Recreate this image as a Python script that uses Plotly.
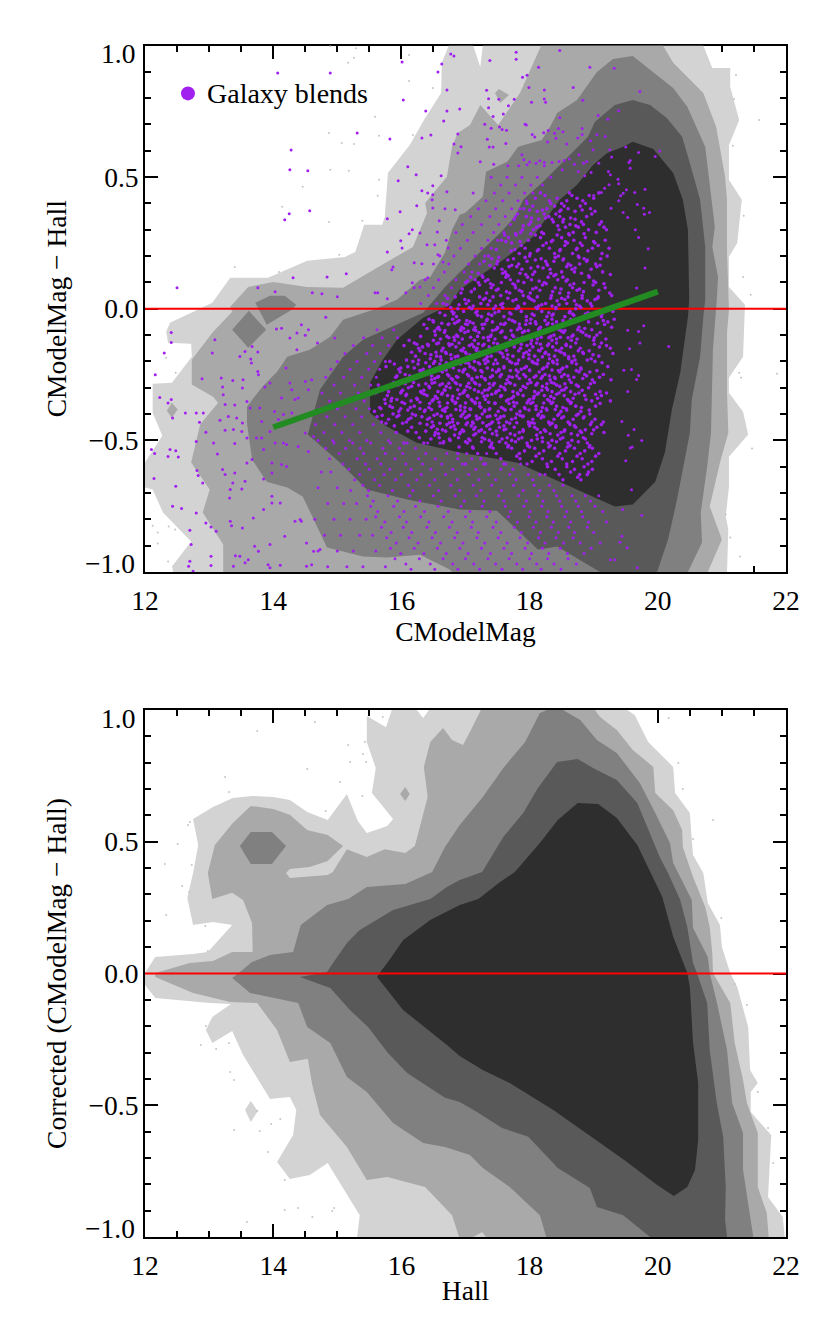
"""Two magnitude-difference density panels, filled contours with outliers on top."""
import plotly.graph_objects as go
from plotly.subplots import make_subplots

FONT = "Liberation Serif, Times New Roman, serif"
SHADES = ["#d3d3d3", "#a9a9a9", "#808080", "#595959", "#2e2e2e"]
PURPLE = "#a020f0"

TOP_L1 = [(16.74,1.0),(16.63,.934),(16.62,.82),(16.37,.725),(16.13,.622),(15.79,.516),(15.74,.349),(15.7,.319),(15.42,.319),(15.28,.216),(15.12,.197),(14.53,.182),(13.92,.118),(13.33,.118),(13.05,.023),(12.39,-.053),(12.33,-.087),(12.36,-.129),(12.72,-.133),(12.73,-.182),(12.42,-.281),(12.12,-.285),(12.12,-.395),(12.27,-.482),(12.0,-.584),(12.0,-.679),(12.12,-.687),(12.28,-.774),(12.72,-.884),(12.42,-.979),(12.44,-1),(21.08,-1),(21.1,-.839),(21.06,-.789),(21.11,-.676),(21.11,-.562),(21.41,-.478),(21.33,-.391),(21.11,-.319),(21.11,-.262),(21.33,-.182),(21.36,-.004),(21.36,.015),(21.11,.083),(21.11,.197),(21.24,.25),(21.31,.414),(21.11,.49),(21.11,.622),(21.27,.717),(21.13,.842),(21.13,.915),(20.85,.915),(20.71,1),(17.27,1),(17.23,.918),(17.12,1)]
TOP_L2 = [(20.08,1),(20.24,.934),(20.71,.82),(20.91,.691),(21.05,.501),(21.08,.414),(21.08,.213),(21.1,.083),(21.11,-.004),(21.08,-.091),(21.08,-.319),(21.1,-.471),(20.97,-.584),(20.81,-.751),(21.0,-.877),(20.78,-1),(13.22,-1),(13.22,-.896),(12.9,-.774),(13.01,-.687),(12.72,-.584),(12.86,-.44),(13.14,-.357),(13.06,-.334),(12.73,-.288),(12.73,-.194),(13.05,-.091),(13.36,-.011),(13.33,.008),(13.61,.083),(14.0,.102),(14.53,.083),(15.09,.08),(15.7,.167),(16.18,.235),(16.4,.364),(16.37,.402),(16.71,.501),(16.79,.615),(16.88,.668),(17.07,.698),(17.23,.774),(17.51,.698),(17.85,.82),(18.16,.983),(18.18,1)]
TOP_L2_SPOT_A = [(12.34,-.387),(12.42,-.357),(12.51,-.383),(12.42,-.414)]
TOP_L2_SPOT_B = [(17.46,.82),(17.52,.835),(17.68,.812),(17.54,.782)]
TOP_L3 = [(19.61,.96),(20.24,.839),(20.46,.767),(20.74,.615),(20.89,.311),(20.85,.235),(20.94,.121),(20.92,.034),(20.86,-.156),(20.85,-.258),(20.83,-.471),(20.77,-.6),(20.67,-.774),(20.69,-.888),(20.47,-1),(16.79,-1),(16.76,-.991),(16.29,-.934),(15.78,-.945),(15.4,-.941),(14.84,-.907),(14.46,-.713),(14.22,-.679),(13.9,-.657),(13.67,-.573),(13.59,-.433),(13.59,-.372),(13.83,-.296),(14.06,-.239),(14.22,-.182),(14.57,-.156),(14.89,-.106),(15.09,-.042),(15.56,-.004),(15.93,.034),(16.29,.11),(16.45,.121),(16.68,.213),(16.79,.3),(16.91,.357),(16.99,.364),(17.27,.425),(17.32,.52),(17.65,.558),(17.82,.615),(18.19,.641),(18.32,.691),(18.43,.744),(18.74,.793),(19.05,.899),(19.3,.949)]
TOP_L3_SPOT_A = [(13.72,.023),(13.95,.049),(14.18,.049),(14.36,.015),(14.29,-.004),(13.9,-.061)]
TOP_L3_SPOT_B = [(13.36,-.08),(13.62,-.008),(13.89,-.08),(13.61,-.148)]
TOP_L4 = [(19.61,.793),(19.88,.774),(20.14,.725),(20.38,.653),(20.5,.554),(20.66,.414),(20.74,.235),(20.74,.034),(20.71,-.03),(20.66,-.182),(20.53,-.345),(20.5,-.471),(20.3,-.725),(20.16,-.877),(19.99,-1),(19.1,-1),(18.43,-.903),(18.13,-.915),(17.49,-.767),(16.91,-.763),(16.09,-.725),(15.46,-.687),(15.04,-.584),(14.54,-.478),(14.73,-.307),(15.09,-.182),(15.4,-.118),(15.93,-.061),(16.34,-.015),(16.68,.083),(16.91,.14),(17.23,.216),(17.54,.288),(17.77,.349),(17.9,.414),(18.21,.482),(18.4,.528),(18.58,.573),(18.91,.653),(19.02,.71),(19.33,.774)]
TOP_L5 = [(19.61,.634),(19.93,.607),(20.24,.516),(20.39,.414),(20.47,.3),(20.49,.034),(20.47,-.03),(20.35,-.243),(20.22,-.383),(20.11,-.546),(19.96,-.657),(19.61,-.744),(19.33,-.751),(18.47,-.657),(17.8,-.584),(16.91,-.546),(16.24,-.509),(15.78,-.448),(15.51,-.395),(15.51,-.281),(15.71,-.194),(15.93,-.118),(16.34,-.034),(16.76,.015),(16.91,.072),(17.18,.118),(17.59,.186),(18.05,.273),(18.47,.414),(18.74,.471),(18.99,.546),(19.21,.592),(19.46,.615)]

BOT_L1 = [(12.0,.002),(12.16,.063),(12.75,.074),(12.98,.082),(13.36,.184),(13.06,.195),(12.75,.184),(12.66,.287),(12.75,.381),(12.83,.488),(12.75,.586),(13.06,.632),(13.37,.666),(13.67,.674),(14.0,.67),(14.26,.658),(14.53,.613),(14.85,.583),(15.15,.681),(15.32,.579),(15.46,.533),(15.78,.56),(15.87,.586),(15.54,.685),(15.6,.78),(15.46,.879),(15.46,.977),(15.76,.935),(15.85,1),(16.24,1),(16.34,.97),(16.43,1),(19.52,1),(19.64,.981),(19.85,.879),(20.24,.784),(20.27,.685),(20.5,.609),(20.53,.507),(20.55,.45),(20.71,.381),(20.78,.268),(20.97,.184),(21.0,.101),(21.13,.002),(21.24,-.051),(21.41,-.203),(21.44,-.366),(21.56,-.416),(21.45,-.45),(21.45,-.526),(21.77,-.613),(21.72,-.848),(21.95,-.924),(21.98,-1),(15.31,-1),(15.35,-.917),(14.85,-.719),(14.57,-.765),(14.26,-.78),(14.06,-.715),(14.31,-.613),(14.36,-.518),(14.26,-.469),(13.95,-.476),(13.53,-.309),(13.36,-.218),(13.05,-.264),(12.95,-.214),(13.05,-.165),(13.34,-.116),(13.01,-.112),(12.16,-.093),(12.0,-.044)]
BOT_L1_SPOT = [(13.56,-.518),(13.65,-.484),(13.76,-.522),(13.65,-.564)]
BOT_L2 = [(12.16,.002),(12.7,.04),(13.06,.047),(13.36,.082),(13.68,.082),(13.67,.192),(13.53,.279),(13.36,.306),(13.05,.283),(12.98,.381),(13.09,.488),(13.37,.571),(13.65,.636),(14.0,.624),(14.26,.602),(14.53,.545),(14.85,.526),(15.09,.484),(14.85,.427),(14.57,.404),(14.26,.397),(14.2,.381),(14.26,.362),(14.85,.374),(14.93,.385),(15.15,.472),(15.46,.442),(15.74,.472),(16.06,.457),(16.21,.484),(16.41,.67),(16.35,.784),(16.45,.879),(16.65,.932),(16.79,.886),(16.96,.867),(17.07,.917),(17.23,.992),(17.24,1),(19.02,1),(19.1,.973),(19.36,.924),(19.61,.848),(19.93,.784),(19.96,.685),(20.24,.62),(20.38,.545),(20.39,.48),(20.55,.366),(20.74,.252),(20.81,.176),(20.85,.078),(20.86,.002),(21.13,-.112),(21.2,-.264),(21.33,-.404),(21.39,-.491),(21.56,-.605),(21.56,-.81),(21.7,-.909),(21.73,-1),(16.9,-1),(16.79,-.917),(16.37,-.81),(15.78,-.772),(15.46,-.784),(15.15,-.658),(14.73,-.537),(14.61,-.423),(14.54,-.324),(14.26,-.336),(14.06,-.214),(13.75,-.112),(13.33,-.108),(12.75,-.074),(12.16,-.013)]
BOT_L2_SPOT = [(15.98,.681),(16.06,.708),(16.13,.681),(16.06,.655)]
BOT_L1_GAP = [(17.12,-1),(17.26,-.981),(17.32,-1)]
BOT_L3 = [(13.48,.006),(13.67,.044),(13.95,.07),(14.31,.082),(14.43,.184),(14.84,.26),(15.17,.283),(15.46,.328),(16.06,.34),(16.48,.385),(16.68,.48),(16.91,.564),(17.27,.67),(17.59,.78),(17.93,.879),(18.16,.989),(18.27,1),(18.52,1),(18.79,.962),(19.05,.886),(19.36,.837),(19.72,.723),(19.96,.609),(20.19,.495),(20.24,.419),(20.53,.279),(20.55,.173),(20.78,.063),(20.81,.002),(20.92,-.108),(21.08,-.29),(21.16,-.491),(21.33,-.605),(21.33,-.746),(21.49,-1),(18.26,-1),(18.16,-.917),(17.82,-.841),(17.69,-.81),(17.27,-.738),(17.07,-.689),(16.68,-.658),(16.34,-.643),(15.87,-.567),(15.46,-.45),(15.15,-.393),(14.89,-.264),(14.53,-.203),(14.39,-.112),(13.64,-.074),(13.36,-.017)]
BOT_L3_SPOT = [(13.48,.484),(13.65,.537),(13.98,.537),(14.2,.484),(13.98,.416),(13.65,.416)]
BOT_L4 = [(14.84,.006),(14.89,.025),(15.15,.116),(15.35,.165),(15.87,.241),(16.45,.283),(16.71,.328),(16.91,.355),(17.26,.385),(17.59,.518),(17.9,.609),(18.13,.704),(18.43,.803),(18.75,.814),(18.99,.78),(19.36,.734),(19.68,.647),(19.88,.533),(20.03,.442),(20.16,.381),(20.35,.279),(20.46,.176),(20.55,.04),(20.61,.002),(20.77,-.112),(20.81,-.29),(20.92,-.491),(21.02,-.62),(21.06,-.81),(21.05,-.935),(21.08,-1),(19.88,-1),(19.46,-.917),(19.05,-.886),(18.94,-.814),(18.44,-.738),(17.98,-.62),(17.57,-.586),(17.18,-.526),(16.91,-.488),(16.68,-.472),(16.09,-.378),(15.79,-.302),(15.48,-.203),(15.2,-.139),(14.89,-.055),(14.42,-.013)]
BOT_L5 = [(15.67,.006),(15.78,.04),(16.03,.127),(16.45,.203),(16.91,.26),(17.2,.283),(17.54,.347),(17.77,.385),(18.16,.495),(18.44,.583),(18.75,.647),(19.07,.643),(19.36,.59),(19.68,.488),(20.07,.29),(20.24,.139),(20.46,.002),(20.5,-.051),(20.55,-.264),(20.63,-.416),(20.63,-.632),(20.58,-.746),(20.46,-.81),(20.25,-.844),(19.99,-.803),(19.52,-.715),(18.99,-.624),(18.37,-.518),(17.69,-.416),(17.27,-.366),(16.91,-.313),(16.71,-.271),(16.03,-.139),(15.62,-.013)]

TOP_OUTLIERS = [(14.89,.998),(15.29,.99),(15.26,.953),(15.17,.934),(16.12,.964),(16.12,.865),(16.49,.839),(15.59,.729),(14.87,.668),(15.07,.63),(15.26,.626),(15.65,.657),(16.18,.66),(14.89,.528),(15.18,.524),(15.65,.49),(15.63,.429),(14.46,.463),(14.14,.387),(14.87,.33),(15.39,.334),(15.03,.205),(13.4,.159),(14.09,.14),(21.22,.888),(21.19,.797),(21.58,.717),(21.17,.619),(21.34,.353),(21.33,.121),(21.45,.053),(12.33,-.186),(12.48,-.243),(12.12,-.824),(12.2,-.85),(12.37,-.827),(12.47,-.839),(12.2,-.892),(12.36,-.96),(21.27,-.243),(21.3,-.262),(21.86,-.247),(21.47,-.531),(21.06,-.782),(21.13,-.869),(21.28,-.941)]
BOT_OUTLIERS = [(14.65,.954),(13.75,.92),(13.25,.746),(13.31,.689),(14.53,.776),(15.04,.727),(15.17,.867),(15.43,.879),(15.4,.833),(15.45,.803),(15.2,.803),(15.39,.674),(14.82,.617),(15.71,.973),(12.7,.575),(12.67,.564),(12.51,.491),(12.31,.416),(12.73,.412),(12.58,.332),(12.69,.309),(12.33,.222),(12.94,.18),(12.98,.085),(20.17,.97),(20.32,.799),(20.39,.7),(20.86,.583),(20.55,.51),(20.99,.211),(12.95,-.199),(12.87,-.271),(13.11,-.287),(13.31,-.264),(13.33,-.374),(13.39,-.404),(13.75,-.522),(13.39,-.594),(13.79,-.598),(13.97,-.571),(14.11,-.552),(13.92,-.677),(14.18,-.784),(14.18,-.898),(14.39,-.89),(14.61,-.924),(14.92,-.901),(14.95,-.89),(13.59,-.943),(21.2,-.04),(21.39,-.12),(21.56,-.45),(21.72,-.586),(21.8,-.719)]

# blends read one by one where they stand apart
BLENDS_UPPER_LEFT = [(12.5,.08),(14.07,.896),(14.89,.896),(16.01,.937),(16.03,.793),(14.28,.603),(14.26,.528),(14.54,.524),(14.57,.372),(14.25,.361),(14.18,.338),(15.31,.668),(15.82,.645),(15.78,.342),(15.98,.368),(15.95,.486),(16.1,.539),(16.23,.509),(16.32,.448),(16.41,.44),(16.49,.467),(16.62,.505),(16.32,.649),(16.46,.66),(16.38,.751),(16.71,.751),(16.91,.759),(16.66,.713),(16.77,.968),(16.82,.96),(16.63,.93),(16.57,.899),(16.71,.831),(16.88,.664),(16.82,.626),(16.93,.615),(16.88,.592),(15.78,.216),(16.01,.231),(15.99,.258),(16.17,.3),(16.12,.285),(16.29,.288),(16.4,.243),(16.52,.243),(16.56,.292),(16.59,.334),(16.68,.38),(16.84,.376),(16.71,.444),(16.49,.433),(16.48,.414),(16.24,.391),(16.49,.383),(14.31,.118),(14.84,.121),(15.14,.133),(15.85,.148),(15.87,.159),(13.76,.08),(14.03,.065),(14.61,.061),(14.76,.057),(15.0,.046),(15.59,.061),(15.63,.061),(15.78,.038),(16.07,.061),(16.17,.099),(16.2,.175),(16.32,.171),(16.29,.083),(16.41,.118),(16.57,.205),(16.65,.178),(16.73,.231)]
BLENDS_UPPER_RIGHT = [(17.79,.974),(17.79,.948),(17.38,.943),(18.14,.917),(18.47,.981),(18.94,.917),(19.32,.914),(17.89,.879),(17.96,.887),(17.99,.84),(18.23,.831),(18.68,.84),(19.72,.825),(17.33,.83),(17.36,.798),(17.52,.796),(17.76,.796),(18.23,.797),(18.25,.784),(18.03,.784),(18.83,.792),(17.67,.771),(17.36,.764),(19.39,.752),(17.43,.73),(17.59,.74),(18.47,.726),(19.07,.734),(19.22,.72),(17.3,.701),(17.53,.69),(17.57,.681),(17.64,.678),(17.93,.701),(17.95,.698),(17.4,.686),(17.34,.644),(18.04,.662),(18.08,.652),(18.22,.669),(18.29,.677),(18.39,.667),(18.45,.685),(18.52,.672),(18.41,.648),(18.82,.685),(18.82,.662),(18.75,.649),(18.28,.633),(17.63,.628),(17.43,.614),(17.37,.614),(19.18,.654),(19.05,.661),(19.5,.614),(18.95,.638),(18.58,.626),(19.7,.594),(20.03,.599),(19.96,.578),(19.57,.563),(19.55,.556),(19.57,.534),(19.28,.576),(19.25,.604),(18.99,.604),(17.88,.585),(17.91,.566),(17.44,.549),(17.23,.558),(17.66,.543),(17.83,.543),(17.96,.547),(18.0,.557),(18.1,.553),(18.16,.562),(18.23,.556),(18.23,.543),(18.35,.556),(18.46,.559),(18.54,.563),(18.62,.569),(18.77,.585),(18.7,.549),(18.84,.553),(18.89,.559),(19.08,.553),(18.96,.518),(18.76,.521),(18.86,.505),(18.51,.528),(19.23,.521),(19.26,.509),(19.38,.492),(19.8,.454),(19.64,.442),(19.51,.452),(19.39,.475),(19.24,.471),(19.17,.458),(19.12,.442),(19.0,.43),(19.42,.429),(19.46,.439),(19.39,.41),(19.68,.396),(19.78,.382),(19.87,.366),(19.79,.359),(19.53,.347),(19.46,.366),(19.27,.382),(19.65,.3),(19.7,.271),(19.85,.228),(19.8,.155),(19.67,.079)]
BLENDS_RIGHT = [(20.17,-.143),(19.78,-.065),(19.7,-.086),(19.72,-.13),(19.53,-.082),(19.56,-.152),(19.7,-.254),(19.67,-.269),(19.59,-.231),(19.47,-.234),(19.53,-.314),(19.44,-.428),(19.63,-.459),(19.54,-.481),(19.75,-.5),(19.57,-.529),(19.6,-.525),(19.5,-.577),(19.59,-.688),(19.75,-.784),(19.45,-.763),(19.44,-.864),(19.52,-.908),(19.68,-.984),(19.33,-.953),(19.26,-.953),(19.41,-.887)]
BLENDS_LOWER_LEFT = [(12.41,-.09),(12.41,-.128),(12.3,-.168),(12.16,-.251),(12.23,-.337),(12.36,-.358),(12.41,-.345),(12.43,-.415),(12.63,-.396),(12.8,-.396),(12.91,-.396),(12.85,-.431),(12.95,-.469),(12.8,-.504),(12.1,-.535),(12.15,-.55),(12.39,-.535),(12.48,-.539),(12.36,-.561),(12.52,-.563),(12.14,-.645),(12.81,-.614),(12.83,-.633),(12.9,-.662),(12.48,-.674),(12.43,-.75),(12.57,-.759),(12.8,-.776),(12.7,-.841),(12.95,-.814),(13.03,-.829),(13.11,-.845),(12.72,-.896),(12.7,-.959),(12.68,-.978),(13.03,-.94),(13.03,-.975),(12.75,-.997),(13.09,-.118),(13.05,-.168),(12.89,-.266),(13.19,-.263),(13.21,-.297),(13.22,-.327),(13.25,-.364),(13.37,-.273),(13.53,-.27),(13.52,-.301),(13.56,-.162),(13.48,-.181),(13.65,-.191),(13.66,-.206),(13.76,-.164),(13.76,-.238),(13.77,-.251),(13.67,-.143),(14.26,-.111),(14.37,-.092),(14.5,-.101),(14.69,-.13),(14.96,-.111),(14.37,-.156),(14.2,-.225),(13.95,-.282),(13.87,-.297),(14.44,-.061),(14.55,-.08),(14.82,-.032),(14.05,-.077),(14.13,-.074),(13.4,-.366),(13.3,-.409),(13.17,-.424),(13.43,-.415),(13.52,-.434),(13.59,-.352),(13.64,-.377),(13.38,-.459),(13.51,-.466),(13.25,-.462),(13.59,-.491),(13.4,-.512),(13.13,-.552),(13.07,-.51),(13.67,-.573),(13.59,-.586),(13.21,-.611),(13.25,-.63),(13.4,-.624),(13.56,-.655),(13.37,-.662),(13.33,-.687),(13.32,-.719),(13.51,-.685),(13.85,-.647),(13.98,-.712),(13.98,-.738),(14.11,-.738),(13.85,-.763),(13.69,-.795),(13.33,-.807),(13.35,-.824),(13.52,-.833),(14.18,-.864),(13.95,-.896),(13.71,-.902),(13.77,-.921),(13.61,-.953),(13.48,-.94),(13.41,-.938),(13.92,-.972),(13.95,-.984),(13.56,-.965),(13.38,-.978),(14.11,-.974),(14.34,-.807),(14.42,-.801),(14.44,-.807),(14.52,-.89),(14.63,-.921),(14.73,-.915),(14.52,-.978),(14.6,-.972),(14.26,-.282),(14.29,-.308),(14.34,-.345),(14.39,-.339),(14.5,-.276),(14.6,-.27),(14.55,-.308),(14.13,-.339),(13.79,-.377),(14.02,-.39),(14.08,-.421),(14.16,-.402),(13.82,-.428),(13.95,-.466),(13.82,-.491),(13.74,-.491),(14.03,-.51),(14.16,-.51),(14.21,-.516),(14.39,-.523),(14.55,-.542),(13.85,-.535),(13.98,-.586),(14.13,-.592),(14.21,-.599),(13.98,-.624),(14.29,-.396),(14.5,-.472),(14.63,-.485)]

# estimated row by row where the blends crowd together: a y value and the x values on it
BAND_Y = [.02,.05,.08,.11,.14,.17,.2,.23,.26,.29,.32,.35,.38,.41,.44,.47,.5,-.08,-.11,-.14,-.17,-.2,-.23,-.26,-.29,-.32,-.35,-.38,-.41,-.44,-.47,-.5,-.62,-.68,-.74,-.8,-.86,-.92,-.98]
BAND_X = [[16.3,16.55],[16.42,16.68],[16.5,16.78,16.2],[16.58,16.85,16.37],[16.67,16.98,17.1],[16.74,17.05,17.22,16.5],[16.82,17.15,16.6,17.3],[16.92,17.25,17.4],[16.7,17.03,17.35,17.5],[17.12,17.44,16.85,17.6],[16.95,17.25,17.52,17.7],[17.08,17.38,17.62,17.78],[17.2,17.47,17.72,17.85],[17.32,17.58,17.82,17.95],[17.12,17.45,17.68,17.92,18.05],[17.55,17.78,18.02,18.2],[17.4,17.65,17.88,18.12,18.33],[15.62,15.88],[15.41,15.7,15.94],[15.25,15.55,15.8],[15.12,15.46,15.67],[15.0,15.31,15.58,15.75],[14.9,15.2,15.49,15.66],[14.82,15.1,15.38,15.61],[14.95,15.27,15.52],[14.76,15.05,15.33,15.47],[14.88,15.17,15.42],[14.72,15.0,15.29,15.5],[14.84,15.12,15.38],[14.66,14.96,15.24,15.56],[14.79,15.07,15.35,15.68],[14.7,14.93,15.19,15.46,15.8],[14.75,14.9],[14.7,15.0],[14.85,15.1,15.3],[14.65,14.95,15.2,15.45],[14.8,15.05,15.35,15.55],[14.7,15.0,15.25,15.6],[14.85,15.15,15.4,15.75]]
SKIRT_Y = [-.53,-.51,-.57,-.55,-.61,-.59,-.65,-.63,-.69,-.67,-.73,-.71,-.77,-.75,-.81,-.79,-.85,-.83,-.89,-.87,-.93,-.91,-.97,-.95,-.99]
SKIRT_X = [[14.82,15.13,15.36,15.71,15.97,16.22],[14.95,15.24,15.52,15.83,16.09,16.41,16.6],[14.88,15.31,15.62,15.9,16.27,16.53,16.88,17.1],[15.03,15.41,15.75,16.02,16.38,16.71,17.02,17.33],[15.18,15.5,15.82,16.15,16.46,16.8,17.16,17.55,17.74],[15.09,15.44,15.68,16.07,16.33,16.63,16.95,17.28,17.63,17.86],[15.27,15.58,15.91,16.24,16.52,16.87,17.21,17.47,17.79,18.05],[15.35,15.73,16.0,16.31,16.69,17.05,17.36,17.69,17.98,18.24],[15.21,15.49,15.86,16.18,16.58,16.91,17.24,17.56,17.9,18.16,18.38],[15.4,15.66,16.11,16.44,16.77,17.12,17.41,17.75,18.07,18.31,18.52],[15.56,15.94,16.29,16.62,16.98,17.29,17.6,17.95,18.21,18.47,18.72,18.95],[15.47,15.79,16.13,16.5,16.84,17.17,17.52,17.83,18.13,18.42,18.66,18.87,19.08],[15.63,16.04,16.36,16.73,17.07,17.38,17.7,18.01,18.29,18.58,18.81,19.14],[15.52,15.88,16.22,16.57,16.93,17.26,17.62,17.91,18.19,18.5,18.76,19.02],[15.74,16.08,16.43,16.79,17.11,17.48,17.81,18.1,18.37,18.64,18.92,19.2],[15.6,15.97,16.3,16.66,17.0,17.33,17.67,17.99,18.27,18.55,18.83],[15.84,16.16,16.53,16.87,17.2,17.55,17.87,18.17,18.45,18.7,19.0],[15.69,16.03,16.4,16.75,17.09,17.43,17.76,18.06,18.34,18.61,18.9],[15.92,16.26,16.61,16.96,17.3,17.65,17.97,18.24,18.53,18.79,19.1],[15.77,16.12,16.48,16.83,17.18,17.51,17.85,18.14,18.41,18.68],[15.99,16.35,16.7,17.04,17.39,17.72,18.03,18.3,18.59,18.85],[15.83,16.2,16.56,16.91,17.25,17.6,17.93,18.2,18.48,18.96],[16.07,16.45,16.8,17.13,17.47,17.8,18.11,18.38,18.73],[15.9,16.28,16.65,17.0,17.35,17.68,18.0,18.28,18.6],[16.15,16.52,16.88,17.22,17.57,17.89,18.18,18.49]]
CORE_Y = [.41,.37,.43,.39,.44,.40,.42,.38,.33,.29,.35,.31,.36,.32,.34,.30,.25,.21,.27,.23,.28,.24,.26,.22,.17,.13,.19,.15,.20,.16,.18,.14,.09,.05,.11,.07,.12,.08,.10,.06,.01,-.03,.03,-.01,.04,.00,.02,-.02,-.07,-.11,-.05,-.09,-.04,-.08,-.06,-.10,-.15,-.19,-.13,-.17,-.12,-.16,-.14,-.18,-.23,-.27,-.21,-.25,-.20,-.24,-.22,-.26,-.31,-.35,-.29,-.33,-.28,-.32,-.30,-.34,-.39,-.43,-.37,-.41,-.36,-.40,-.38,-.42,-.47,-.51,-.45,-.49,-.44,-.48,-.46,-.50,-.55,-.59,-.53,-.57,-.52,-.56,-.54,-.58,-.63,-.60,-.61,-.65,-.62,-.64]
CORE_X = [[18.31,18.58,18.83],[18.12,18.47,18.71,19.02],[18.24,18.66,18.93],[18.05,18.39,18.54,18.79],[18.17,18.62,19.08],[17.96,18.33,18.5,18.87],[18.09,18.43,18.74,19.0],[17.91,18.27,18.6,18.95],[18.02,18.37,18.52,18.81,19.12],[17.86,18.19,18.68,19.04],[17.95,18.3,18.47,18.89],[18.11,18.56,18.76,19.16],[17.81,18.23,18.41,18.97],[17.99,18.63,18.84,19.09],[17.76,18.14,18.35,18.53,18.71],[17.89,18.06,18.46,18.92,19.2],[17.72,18.26,18.59,18.79,19.02],[17.84,18.01,18.39,18.67,19.13],[17.67,18.17,18.5,18.87],[17.93,18.31,18.74,18.98,19.24],[17.61,17.79,18.09,18.43,18.62],[17.87,18.21,18.55,18.82,19.07],[17.56,17.98,18.36,18.69,19.18],[17.71,18.12,18.47,18.91],[17.49,17.83,18.27,18.6,18.78,19.03],[17.64,17.94,18.05,18.41,19.26],[17.41,17.75,18.18,18.53,18.85,19.11],[17.57,17.88,18.32,18.66,18.96],[17.36,18.0,18.45,18.76,19.21],[17.68,17.8,18.13,18.58,19.05],[17.29,17.5,17.96,18.25,18.38,18.89],[17.62,18.08,18.5,18.7,19.14],[17.22,17.43,17.77,18.2,18.63,18.99],[17.55,17.9,18.34,18.82,19.28],[17.15,17.35,17.7,18.03,18.44,18.59],[17.48,17.84,18.16,18.74,19.08],[17.08,17.27,17.63,17.97,18.29,18.52,18.93],[17.4,17.78,18.1,18.4,18.67,19.18],[17.0,17.2,17.56,17.91,18.23,18.85,19.03],[16.93,17.33,17.69,18.01,18.47,18.61,19.25],[17.12,17.47,17.82,18.14,18.35,18.78,18.97],[16.86,17.25,17.6,17.95,18.27,18.55,19.12],[17.05,17.38,17.74,18.07,18.43,18.7,18.9],[16.79,16.97,17.18,17.52,17.87,18.19,18.63,19.3],[16.72,17.31,17.66,18.0,18.33,18.5,18.82,19.06],[16.88,17.1,17.44,17.79,18.12,18.41,18.72,19.2],[16.65,17.01,17.24,17.58,17.92,18.25,18.58,18.95],[16.81,17.36,17.71,18.04,18.37,18.67,18.87,19.13],[16.58,16.94,17.15,17.5,17.84,18.17,18.48,18.77,19.28],[16.74,17.28,17.63,17.97,18.3,18.6,19.01],[16.5,16.87,17.07,17.42,17.77,18.09,18.42,18.71,18.92,19.22],[16.67,16.99,17.21,17.55,17.89,18.21,18.53,18.83,19.1],[16.43,16.8,17.34,17.68,18.02,18.35,18.64,19.32],[16.6,16.92,17.13,17.47,17.81,18.14,18.46,18.75,18.97],[16.35,16.73,17.03,17.26,17.6,17.94,18.27,18.56,19.17],[16.53,16.86,17.4,17.73,18.06,18.38,18.68,18.88,19.05],[16.27,16.65,16.97,17.18,17.52,17.86,18.19,18.5,18.79,19.26],[16.45,16.78,17.09,17.32,17.65,17.99,18.31,18.61,18.96],[16.2,16.58,16.9,17.44,17.78,18.11,18.42,18.72,19.12],[16.37,16.7,17.01,17.23,17.57,17.91,18.24,18.54,18.84,19.3],[16.12,16.5,16.83,17.14,17.36,17.7,18.03,18.35,18.65,19.0],[16.29,16.63,16.95,17.48,17.83,18.16,18.46,18.76,18.93],[16.04,16.42,16.75,17.06,17.27,17.61,17.96,18.28,18.57,19.2],[16.22,16.55,16.88,17.18,17.4,17.74,18.08,18.39,18.69,19.08],[15.96,16.34,16.68,16.99,17.52,17.87,18.2,18.5,18.8],[16.14,16.47,16.8,17.1,17.31,17.65,18.0,18.32,18.62,18.98,19.27],[15.89,16.26,16.6,16.92,17.22,17.44,17.78,18.12,18.43,18.73],[16.06,16.39,16.72,17.03,17.56,17.91,18.24,18.54,18.86,19.15],[15.82,16.18,16.52,16.84,17.14,17.35,17.69,18.04,18.36,18.66,19.02],[15.98,16.31,16.64,16.96,17.26,17.48,17.82,18.15,18.47,18.77,18.94],[15.76,16.1,16.44,16.76,17.07,17.6,17.95,18.27,18.58,19.22],[15.91,16.23,16.56,16.88,17.18,17.39,17.73,18.07,18.39,18.69,19.09],[15.7,16.02,16.35,16.68,16.99,17.3,17.52,17.86,18.19,18.5,18.82],[15.84,16.15,16.48,16.8,17.11,17.64,17.98,18.31,18.61,18.97,19.26],[15.64,15.95,16.27,16.6,16.92,17.22,17.43,17.77,18.1,18.42,18.73],[15.78,16.07,16.4,16.72,17.03,17.34,17.56,17.9,18.23,18.54,18.86,19.12],[15.88,16.19,16.52,16.84,17.14,17.68,18.02,18.34,18.65,19.01],[15.6,15.99,16.32,16.64,16.96,17.26,17.47,17.81,18.14,18.46,18.77,19.2],[15.72,16.11,16.44,16.76,17.07,17.38,17.6,17.94,18.26,18.57,18.92],[15.85,16.24,16.56,16.88,17.18,17.72,18.06,18.38,18.68,19.06],[15.58,15.96,16.36,16.68,16.99,17.3,17.51,17.85,18.18,18.49,18.8],[15.69,16.08,16.48,16.8,17.11,17.42,17.64,17.98,18.3,18.6,18.97,19.15],[15.82,16.2,16.6,16.92,17.22,17.76,18.1,18.42,18.72,19.03],[15.62,15.93,16.32,16.72,17.03,17.34,17.55,17.89,18.22,18.53,18.85],[15.75,16.05,16.44,16.84,17.15,17.46,17.68,18.02,18.34,18.64,19.1],[15.87,16.17,16.56,16.96,17.26,17.8,18.14,18.46,18.76,18.94],[15.68,15.99,16.29,16.68,17.07,17.38,17.59,17.93,18.26,18.57],[15.8,16.11,16.41,16.8,17.18,17.5,17.72,18.05,18.38,18.68,19.02],[15.92,16.23,16.53,16.92,17.3,17.84,18.17,18.49,18.81,19.16],[16.04,16.35,16.65,17.03,17.41,17.63,17.96,18.29,18.6,18.9],[16.16,16.47,16.77,17.15,17.53,17.76,18.08,18.41,18.72,19.05],[16.28,16.59,16.89,17.26,17.65,17.88,18.2,18.52,18.84],[16.4,16.71,17.01,17.37,17.99,18.32,18.63,18.95,19.12],[16.52,16.83,17.13,17.49,17.77,18.11,18.44,18.75],[16.64,16.95,17.25,17.6,17.9,18.23,18.55,18.87,19.0],[16.76,17.07,17.37,17.72,18.03,18.35,18.66],[16.88,17.19,17.48,17.84,18.15,18.47,18.79,19.08],[17.0,17.31,17.6,17.96,18.27,18.58,18.91],[17.12,17.43,17.72,18.08,18.39,18.7,18.98],[17.24,17.55,17.85,18.2,18.51,18.82],[17.4,17.67,17.97,18.32,18.63,18.94],[17.8,18.1,18.44,18.74,19.03],[17.92,18.22,18.56,18.86],[18.04,18.34,18.67,18.97],[18.16,18.46,18.78,18.9],[18.28,18.58,18.85],[18.4,18.7,18.98],[18.52,18.8],[18.64,18.92],[18.75],[18.6,18.95]]
CORE_FILL_Y = [.195,.165,.185,.135,.155,.105,.125,.075,.095,.045,.065,.015,.035,-.015,.005,-.045,-.025,-.075,-.055,-.105,-.085,-.135,-.115,-.165,-.145,-.195,-.175,-.225,-.205,-.255,-.235,-.285,-.265,-.315,-.295,-.345,-.325,-.375,-.355,-.405,-.385,-.435,-.415,-.465,-.445,-.495,-.475,-.525,-.505,.225,.255,.285,.315,.345,.375]
CORE_FILL_X = [[17.52,17.93,18.4,18.77],[17.38,17.72,18.28,18.64,19.1],[17.66,18.09,18.52,18.9],[17.2,17.58,17.85,18.33,18.81],[17.45,18.02,18.21,18.71],[17.03,17.31,17.82,18.15,18.57,19.0],[17.26,17.67,18.38,18.92],[16.95,17.14,17.51,18.05,18.49,18.78],[17.39,17.74,18.26,18.69,19.16],[16.84,17.22,17.43,17.98,18.12,18.6,19.07],[17.09,17.64,17.88,18.36,18.84],[16.71,16.9,17.35,17.55,18.19,18.46,18.73],[16.99,17.28,17.79,18.03,18.55,19.02],[16.6,16.82,17.16,17.46,17.69,18.3,18.62,18.91],[16.77,17.06,17.58,17.83,18.1,18.41,18.8],[16.49,16.9,17.02,17.33,17.73,17.95,18.24,18.52,19.15],[16.68,17.19,17.41,18.07,18.35,18.69,18.98],[16.4,16.56,16.97,17.27,17.5,17.86,18.15,18.44,18.86],[16.63,16.83,17.12,17.62,18.01,18.29,18.59,19.06],[16.3,16.71,16.88,17.19,17.39,17.75,18.08,18.33,18.66,18.93],[16.52,17.04,17.57,17.92,18.21,18.5,18.8],[16.24,16.41,16.79,17.1,17.29,17.69,17.87,18.17,18.57,19.01],[16.61,16.95,17.46,17.81,18.12,18.42,18.74,19.19],[16.16,16.54,16.69,17.0,17.22,17.54,17.95,18.25,18.49,18.83],[16.33,16.85,17.13,17.37,17.76,18.05,18.36,18.64,19.09],[16.08,16.27,16.62,16.92,17.29,17.47,17.83,18.13,18.43,18.71,18.9],[16.46,16.77,17.07,17.66,17.99,18.3,18.55,18.99],[15.99,16.2,16.56,16.81,17.12,17.34,17.6,17.92,18.22,18.52,18.8],[16.38,16.7,17.0,17.2,17.72,18.06,18.37,18.66,19.13],[15.93,16.13,16.47,16.74,17.05,17.42,17.8,18.1,18.31,18.6,18.89],[16.29,16.6,16.9,17.24,17.52,17.7,18.0,18.45,18.73,19.05],[15.87,16.06,16.38,16.64,16.86,17.16,17.37,17.63,17.97,18.27,18.55,18.95],[16.22,16.52,16.78,17.1,17.3,17.84,18.18,18.4,18.83],[15.8,16.0,16.3,16.57,16.98,17.2,17.48,17.74,18.08,18.35,18.64,19.1],[16.16,16.43,16.7,17.02,17.55,17.9,18.2,18.47,18.76],[15.74,15.93,16.25,16.5,16.79,17.09,17.31,17.67,18.0,18.28,18.59,18.88],[16.08,16.36,16.63,16.91,17.41,17.82,18.12,18.42,18.71,19.03],[15.66,15.86,16.14,16.43,16.71,16.99,17.24,17.56,17.92,18.2,18.52,18.81],[16.01,16.29,16.59,16.85,17.15,17.36,17.75,18.05,18.36,18.65],[15.7,15.96,16.22,16.51,16.77,17.06,17.47,17.85,18.13,18.44,18.73],[16.1,16.37,16.64,16.92,17.3,17.62,17.99,18.27,18.58,18.93],[15.76,16.02,16.29,16.6,16.88,17.12,17.4,17.69,18.07,18.35,18.62],[16.15,16.44,16.72,17.0,17.22,17.54,17.78,18.18,18.5,18.84],[16.1,16.38,16.69,16.97,17.21,17.48,17.9,18.25,18.54,18.79],[15.89,16.5,16.82,17.09,17.33,17.6,18.0,18.41,18.7],[16.46,16.75,17.05,17.3,17.57,17.83,18.12,18.48,18.87],[16.58,16.91,17.16,17.42,17.7,18.32,18.65,18.97],[16.9,17.11,17.38,17.66,18.0,18.3,18.59,18.93],[16.66,17.0,17.25,17.53,17.78,18.2,18.42,18.76],[17.48,17.77,18.14,18.48,18.73],[17.63,17.85,18.34,18.56,19.0],[17.78,18.02,18.22,18.61,18.85],[17.9,18.16,18.44,18.72],[18.03,18.25,18.64],[18.0,18.2,18.49,18.82]]
CENTRE_Y = [-.058,-.083,-.108,-.133,-.158,-.183,-.208,-.233,-.258,-.283,-.308,-.333,-.358,-.383,-.408,-.433,-.458]
CENTRE_X = [[16.74,17.0,17.3,17.55,17.84,18.1,18.36],[16.68,16.93,17.16,17.42,17.71,17.98,18.27,18.55],[16.82,17.08,17.35,17.62,17.89,18.18,18.48],[16.55,16.74,17.2,17.5,17.73,18.02,18.3],[16.93,17.17,17.45,17.64,18.0,18.14,18.41],[16.61,16.84,17.34,17.59,17.9,18.2,18.61],[16.5,16.78,17.05,17.31,17.5,17.81,18.1,18.29],[16.7,16.97,17.15,17.42,17.79,18.0,18.35],[16.58,16.86,17.25,17.54,17.68,17.94,18.2,18.5],[16.48,16.74,17.05,17.45,17.7,18.12,18.38],[16.67,16.88,17.14,17.35,17.62,17.86,18.28,18.54],[16.53,16.8,17.04,17.29,17.55,17.75,18.07,18.33],[16.72,17.0,17.22,17.46,17.8,17.96,18.22],[16.47,16.85,17.08,17.37,17.71,18.1,18.4],[16.62,16.93,17.17,17.38,17.6,17.9,18.2],[16.75,17.03,17.27,17.52,17.8,18.03,18.3],[16.56,16.84,17.13,17.38,17.63,18.12]]

TREND_X = [14.0, 20.0]
TREND_Y = [-0.45, 0.065]
ZERO_X = [12, 22]
ZERO_Y = [0, 0]
X_RANGE = [12, 22]
Y_RANGE = [-1, 1]
Y_TICKS = [-1, -0.5, 0, 0.5, 1]
Y_LABELS = ["", "\u22120.5", "0.0", "0.5", ""]


def add_region(fig, pts, color, row):
    fig.add_trace(go.Scatter(
        x=[p[0] for p in pts], y=[p[1] for p in pts],
        mode="lines", fill="toself", fillcolor=color, line=dict(width=0),
        hoverinfo="skip", showlegend=False,
    ), row=row, col=1)


def add_dots(fig, pts, color, size, row):
    fig.add_trace(go.Scatter(
        x=[p[0] for p in pts], y=[p[1] for p in pts],
        mode="markers", marker=dict(color=color, size=size, line=dict(width=0)),
        showlegend=False,
    ), row=row, col=1)


def row_points(row_y, row_x):
    return [(x, y) for y, xs in zip(row_y, row_x) for x in xs]


fig = make_subplots(rows=2, cols=1)

top_regions = [(TOP_L1, 0), (TOP_L2, 1), (TOP_L2_SPOT_A, 1), (TOP_L2_SPOT_B, 1), (TOP_L3, 2),
               (TOP_L3_SPOT_A, 2), (TOP_L3_SPOT_B, 2), (TOP_L4, 3), (TOP_L5, 4)]
for pts, shade in top_regions:
    add_region(fig, pts, SHADES[shade], 1)
add_dots(fig, TOP_OUTLIERS, "#c4c4c4", 2, 1)
fig.add_trace(go.Scatter(x=ZERO_X, y=ZERO_Y, mode="lines", line=dict(color="#ff0000", width=2), showlegend=False), row=1, col=1)
for pts in [BLENDS_UPPER_LEFT, BLENDS_UPPER_RIGHT, BLENDS_RIGHT, BLENDS_LOWER_LEFT,
            row_points(BAND_Y, BAND_X), row_points(SKIRT_Y, SKIRT_X)]:
    add_dots(fig, pts, PURPLE, 3, 1)
for pts in [row_points(CORE_Y, CORE_X), row_points(CORE_FILL_Y, CORE_FILL_X), row_points(CENTRE_Y, CENTRE_X)]:
    add_dots(fig, pts, PURPLE, 3.6, 1)
fig.add_trace(go.Scatter(x=TREND_X, y=TREND_Y, mode="lines", line=dict(color="#228b22", width=6), showlegend=False), row=1, col=1)
add_dots(fig, [(12.67, 0.818)], PURPLE, 14, 1)

bot_regions = [(BOT_L1, 0), (BOT_L1_SPOT, 0), (BOT_L2, 1), (BOT_L2_SPOT, 1), (BOT_L1_GAP, 0),
               (BOT_L3, 2), (BOT_L3_SPOT, 2), (BOT_L4, 3), (BOT_L5, 4)]
for pts, shade in bot_regions:
    add_region(fig, pts, SHADES[shade], 2)
add_dots(fig, BOT_OUTLIERS, "#c4c4c4", 2, 2)
fig.add_trace(go.Scatter(x=ZERO_X, y=ZERO_Y, mode="lines", line=dict(color="#ff0000", width=2), showlegend=False), row=2, col=1)

axis_style = dict(
    showgrid=False, zeroline=False, showline=True, linecolor="black", linewidth=2,
    mirror="allticks", ticks="inside", tickcolor="black", tickwidth=2, ticklen=13,
    layer="below traces", automargin=False, tickfont=dict(family=FONT, size=27.5, color="black"),
    title_font=dict(family=FONT, size=27.5, color="black"),
)
x_minor = dict(ticks="inside", dtick=0.5, ticklen=6, tickwidth=2, tickcolor="black")
y_minor = dict(ticks="inside", dtick=0.1, ticklen=6, tickwidth=2, tickcolor="black")

fig.update_xaxes(range=X_RANGE, dtick=2, minor=x_minor, ticklabelstandoff=3, title_standoff=1, **axis_style)
fig.update_yaxes(range=Y_RANGE, tickvals=Y_TICKS, ticktext=Y_LABELS, minor=y_minor, ticklabelstandoff=-1, title_standoff=14, **axis_style)
fig.update_xaxes(title_text="CModelMag", row=1, col=1)
fig.update_xaxes(title_text="Hall", row=2, col=1)
fig.update_yaxes(title_text="CModelMag \u2212 Hall", row=1, col=1)
fig.update_yaxes(title_text="Corrected (CModelMag \u2212 Hall)", row=2, col=1)

fig.update_layout(
    width=830, height=1329, margin=dict(l=0, r=0, t=0, b=0),
    paper_bgcolor="white", plot_bgcolor="white", showlegend=False,
    xaxis=dict(domain=[145 / 830, 786 / 830]),
    xaxis2=dict(domain=[145 / 830, 786 / 830]),
    yaxis=dict(domain=[(1329 - 572) / 1329, (1329 - 45.5) / 1329]),
    yaxis2=dict(domain=[(1329 - 1237) / 1329, (1329 - 710) / 1329]),
)

# the end labels of the y axis sit just inside the frame, not on their ticks
for yref in ["y domain", "y2 domain"]:
    fig.add_annotation(text="1.0", xref="paper", yref=yref, x=137 / 830, y=0.984, xanchor="right", yanchor="middle",
                       showarrow=False, font=dict(family=FONT, size=27.5, color="black"))
    fig.add_annotation(text="\u22121.0", xref="paper", yref=yref, x=137 / 830, y=0.016, xanchor="right", yanchor="middle",
                       showarrow=False, font=dict(family=FONT, size=27.5, color="black"))
fig.add_annotation(text="Galaxy blends", x=12.93, y=0.818, xref="x", yref="y", xanchor="left", yanchor="middle",
                   showarrow=False, font=dict(family=FONT, size=28, color="black"))

fig.write_html("out.html", config={"displayModeBar": False}, post_script="document.body.style.margin='0';")
